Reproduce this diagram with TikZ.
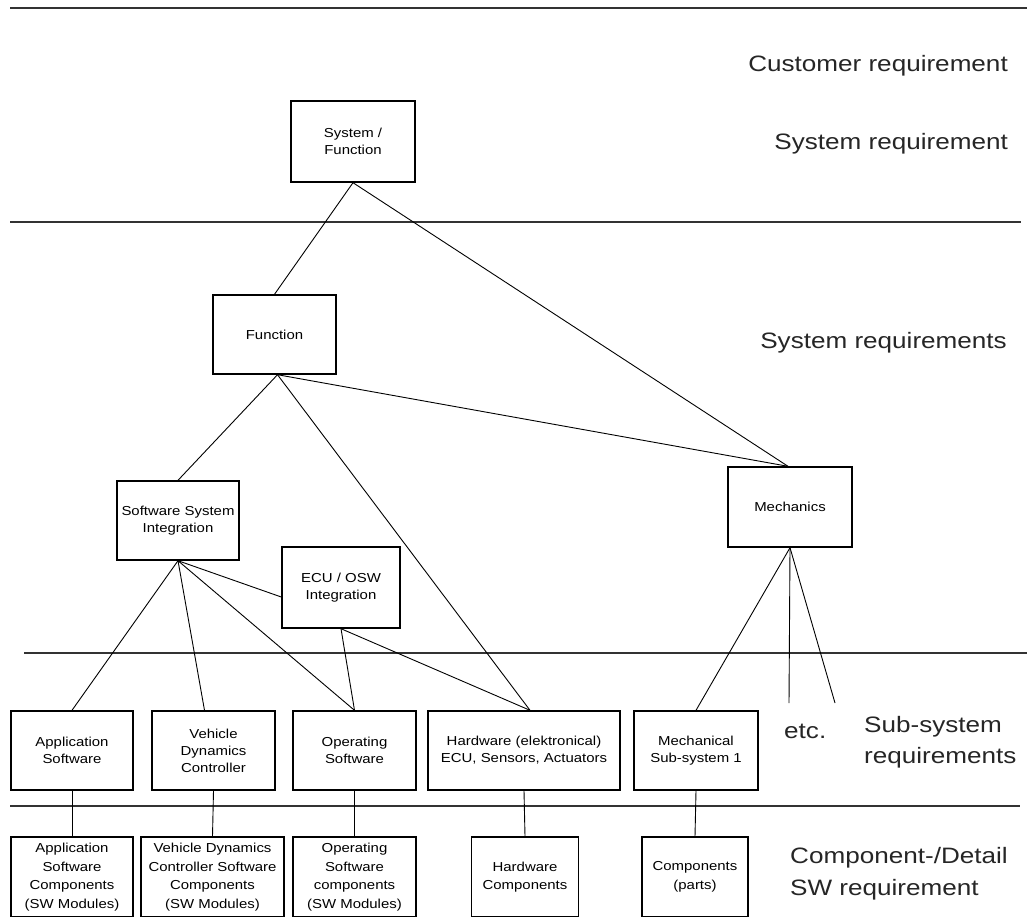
\documentclass[tikz,border=0pt]{standalone}
\usepackage{fontspec}
\setmainfont{Liberation Sans}[FakeStretch=1.15]
\newfontfamily\tierfont{Liberation Sans}[FakeStretch=1.17]
\begin{document}
\begin{tikzpicture}[x=1pt,y=-1pt,
  box/.style={draw=black, line width=1.4pt, rectangle, inner sep=0pt, align=center,
    font=\fontsize{13}{17}\selectfont},
  part/.style={box, font=\fontsize{13}{18.5}\selectfont},
  link/.style={line width=0.9pt, black},
  tier/.style={line width=1.8pt, black!80},
  tiertext/.style={inner sep=0pt, anchor=base east, text=black!85,
    font=\tierfont\fontsize{22.3}{31}\selectfont}]
\clip (0,0) rectangle (1027,916);
\fill[white] (0,0) rectangle (1027,916);

% level separators
\coordinate (s1l) at (10,8);   \coordinate (s1r) at (1027,8);
\coordinate (s2l) at (10,222); \coordinate (s2r) at (1021,222);
\coordinate (s3l) at (24,653); \coordinate (s3r) at (1027,653);
\coordinate (s4l) at (10,806); \coordinate (s4r) at (1020,806);
\draw[tier] (s1l) -- (s1r);
\draw[tier] (s2l) -- (s2r);
\draw[tier] (s3l) -- (s3r);
\draw[tier] (s4l) -- (s4r);

% level names
\node[tiertext] (custreq) at (1008,71) {Customer requirement};
\node[tiertext] (sysreq) at (1008,149) {System requirement};
\node[tiertext] (sysreqs) at (1007,348) {System requirements};
\node[tiertext, anchor=base west] (subreqa) at (864,732) {Sub-system};
\node[tiertext, anchor=base west] (subreqb) at (864,763) {requirements};
\node[tiertext, anchor=base west] (etc) at (784,738) {etc.};
\node[tiertext, anchor=base west] (compreqa) at (790,863) {Component-/Detail};
\node[tiertext, anchor=base west] (compreqb) at (790,895) {SW requirement};

% system and function level
\node[box, minimum width=124, minimum height=81] (sysfn) at (353,141.5) {System /\\Function};
\node[box, minimum width=123, minimum height=79] (fn) at (274.5,334.5) {Function};
\node[box, minimum width=122, minimum height=79] (ssi) at (178,520.5) {Software System\\Integration};
\node[box, minimum width=118, minimum height=81] (ecu) at (341,587.5) {ECU / OSW\\Integration};
\node[box, minimum width=124, minimum height=80] (mech) at (790,507) {Mechanics};

% sub-systems
\node[box, minimum width=122, minimum height=79] (app) at (72,750.5) {Application\\Software};
\node[box, minimum width=123, minimum height=79] (vdc) at (213.5,750.5) {Vehicle\\Dynamics\\Controller};
\node[box, minimum width=123, minimum height=79] (os) at (354.5,750.5) {Operating\\Software};
\node[box, minimum width=192, minimum height=79] (hw) at (524,750.5) {Hardware (elektronical)\\ECU, Sensors, Actuators};
\node[box, minimum width=124, minimum height=79] (msub) at (696,750.5) {Mechanical\\Sub-system 1};

% components
\node[part, minimum width=122, minimum height=80] (appc) at (72,877) {Application\\Software\\Components\\(SW Modules)};
\node[part, minimum width=143, minimum height=80] (vdcc) at (212.5,877) {Vehicle Dynamics\\Controller Software\\Components\\(SW Modules)};
\node[part, minimum width=123, minimum height=80] (osc) at (354.5,877) {Operating\\Software\\components\\(SW Modules)};
\node[part, minimum width=107, minimum height=80] (hwc) at (525,877) {Hardware\\Components};
\node[part, minimum width=106, minimum height=80] (parts) at (695,877) {Components\\(parts)};

% free ends below the mechanics
\coordinate (etca) at (789,703);
\coordinate (etcb) at (835,703);

% connectors
\draw[link] (sysfn.south) -- (fn.north);
\draw[link] (sysfn.south) -- ([xshift=-2]mech.north);
\draw[link] ([xshift=3]fn.south) -- (ssi.north);
\draw[link] ([xshift=3]fn.south) -- ([xshift=-2]mech.north);
\draw[link] ([xshift=3]fn.south) -- ([xshift=6]hw.north);
\draw[link] (ssi.south) -- (app.north);
\draw[link] (ssi.south) -- ([xshift=-9]vdc.north);
\draw[link] (ssi.south) -- (os.north);
\draw[link] (ssi.south) -- ([yshift=-9.5]ecu.west);
\draw[link] (ecu.south) -- (os.north);
\draw[link] (ecu.south) -- ([xshift=6]hw.north);
\draw[link] (mech.south) -- (msub.north);
\draw[link] (mech.south) -- (etca);
\draw[link] (mech.south) -- (etcb);
\draw[link] (app.south) -- (appc.north);
\draw[link] (vdc.south) -- (vdcc.north);
\draw[link] (os.south) -- (osc.north);
\draw[link] (hw.south) -- (hwc.north);
\draw[link] (msub.south) -- (parts.north);
\end{tikzpicture}
\end{document}
